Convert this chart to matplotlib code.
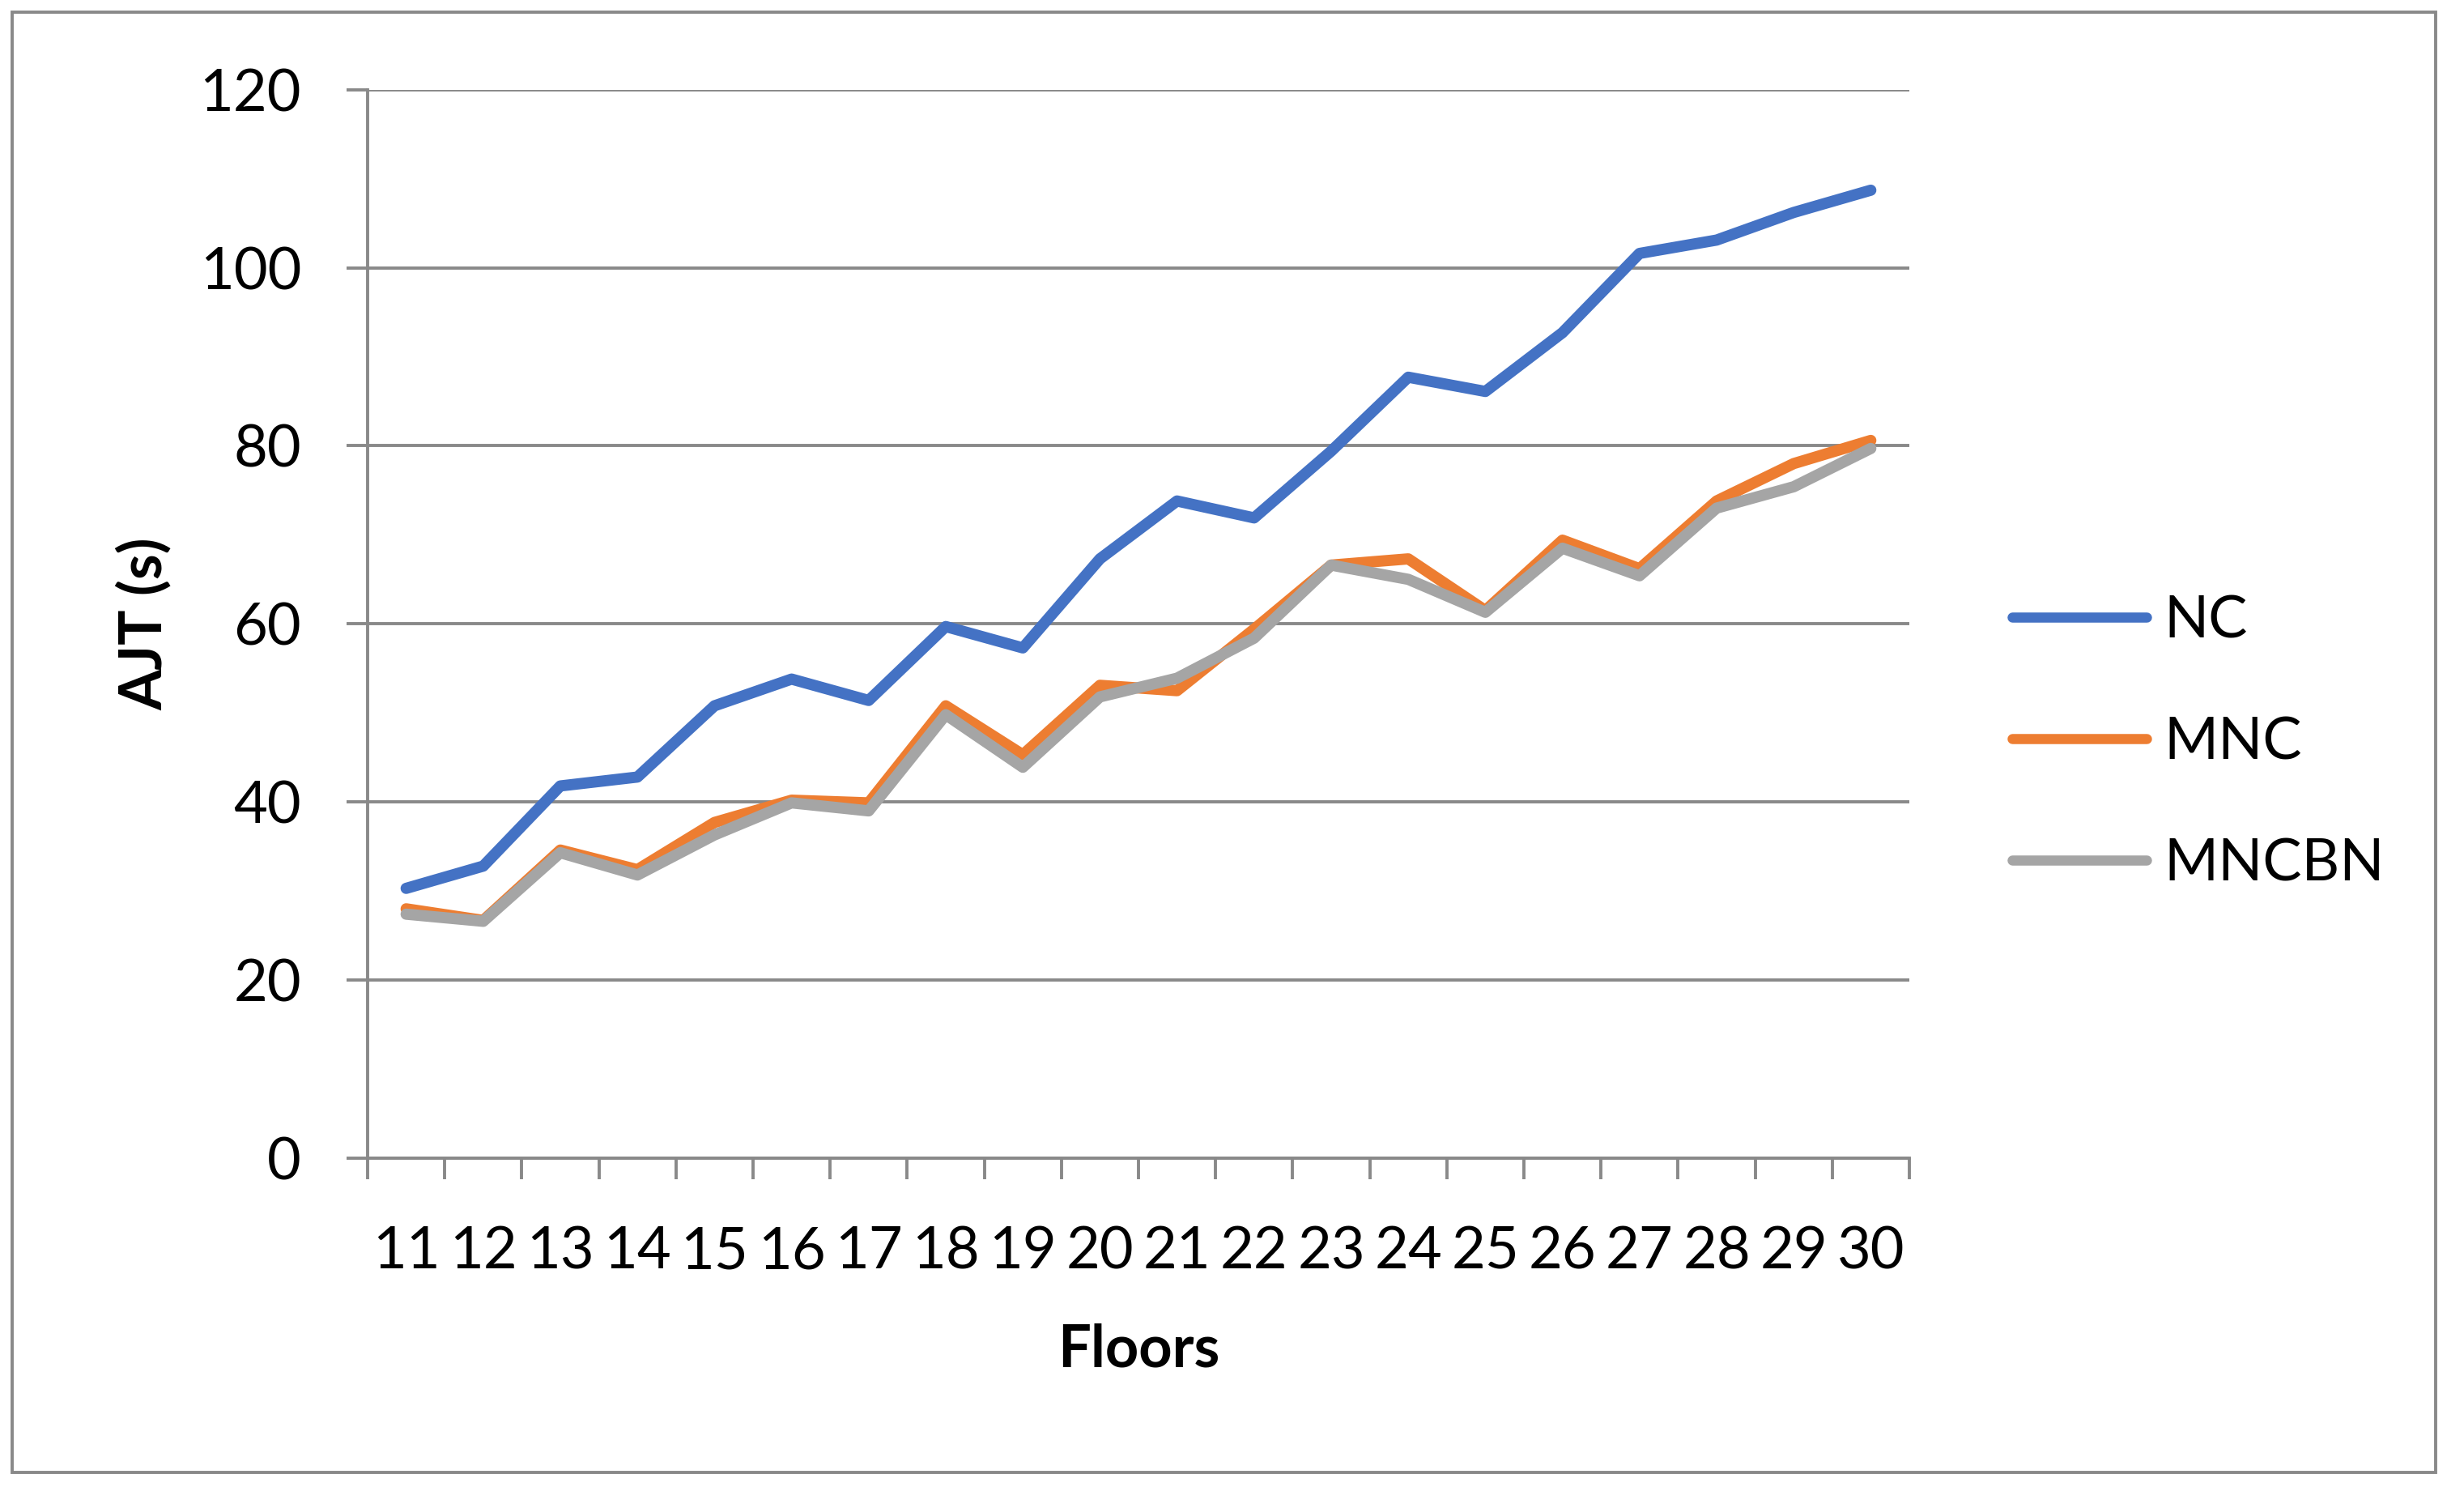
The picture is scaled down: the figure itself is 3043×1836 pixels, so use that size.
import numpy as np
import matplotlib
matplotlib.use("Agg")
import matplotlib.pyplot as plt
from matplotlib.patches import Rectangle
from matplotlib.ticker import FixedLocator

floors = [str(f) for f in range(11, 31)]
nc = [30.3, 32.8, 41.8, 42.8, 50.8, 53.8, 51.4, 59.7, 57.3, 67.3,
      73.8, 71.9, 79.4, 87.7, 86.1, 92.7, 101.6, 103.1, 106.2, 108.7]
mnc = [28.0, 26.7, 34.6, 32.4, 37.7, 40.2, 39.9, 50.8, 45.3, 53.1,
       52.5, 59.4, 66.6, 67.3, 61.5, 69.4, 66.2, 73.8, 78.0, 80.6]
mncbn = [27.4, 26.6, 34.3, 31.8, 36.3, 39.9, 39.0, 49.8, 43.9, 51.8,
         53.9, 58.4, 66.6, 65.0, 61.3, 68.5, 65.4, 73.0, 75.4, 79.7]
series_names = ["NC", "MNC", "MNCBN"]
colors = ["#4472C4", "#ED7D31", "#A5A5A5"]
yticks = [0, 20, 40, 60, 80, 100, 120]

plt.rcParams['font.family'] = ['Lato', 'DejaVu Sans']
W, H = 3043, 1836
fig = plt.figure(figsize=(W / 100, H / 100), dpi=100)
ax = fig.add_axes([454 / W, 1 - 1430 / H, (2358 - 454) / W, (1430 - 110.6) / H])

x = np.arange(len(floors))
lw = 10
for vals, name, c in zip([nc, mnc, mncbn], series_names, colors):
    ax.plot(x, vals, color=c, lw=lw, label=name, solid_capstyle='round',
            solid_joinstyle='round', zorder=3)

gray = "#898989"
ax.set_xlim(-0.5, len(floors) - 0.5)
ax.set_ylim(0, 120)
ax.set_yticks(yticks)
ax.set_yticklabels([str(v) for v in yticks])
ax.yaxis.grid(True, color=gray, lw=2.8)
ax.set_axisbelow(True)

ax.xaxis.set_major_locator(FixedLocator(np.arange(-0.5, len(floors), 1.0)))
ax.xaxis.set_minor_locator(FixedLocator(x))
ax.set_xticklabels([], minor=False)
ax.set_xticklabels(floors, minor=True)
ax.tick_params(axis='x', which='major', length=19, width=2.8, color=gray, direction='out')
ax.tick_params(axis='x', which='minor', length=0, pad=60, labelsize=52)
ax.tick_params(axis='y', length=19, width=2.8, color=gray, pad=40, labelsize=52)

for s in ['top', 'right']:
    ax.spines[s].set_visible(False)
for s in ['left', 'bottom']:
    ax.spines[s].set_color(gray)
    ax.spines[s].set_linewidth(2.8)

ax.set_xlabel("Floors", fontsize=52, fontweight='bold', labelpad=40)
ax.set_ylabel("AJT (s)", fontsize=52, fontweight='bold', labelpad=24)

leg = fig.legend(loc='center left', bbox_to_anchor=(2485 / W, 1 - 917 / H),
                 frameon=False, fontsize=52, handlelength=2.3, handletextpad=0.3,
                 labelspacing=1.18, borderpad=0, borderaxespad=0)
for line in leg.get_lines():
    line.set_linewidth(9)
    line.set_solid_capstyle('round')

fig.patches.append(Rectangle((15 / W, 1 - 1818 / H), (3008 - 15) / W, (1818 - 15) / H,
                             transform=fig.transFigure, fill=False, edgecolor=gray, lw=2.8))

fig.savefig("out.png", dpi=100, facecolor='white')
